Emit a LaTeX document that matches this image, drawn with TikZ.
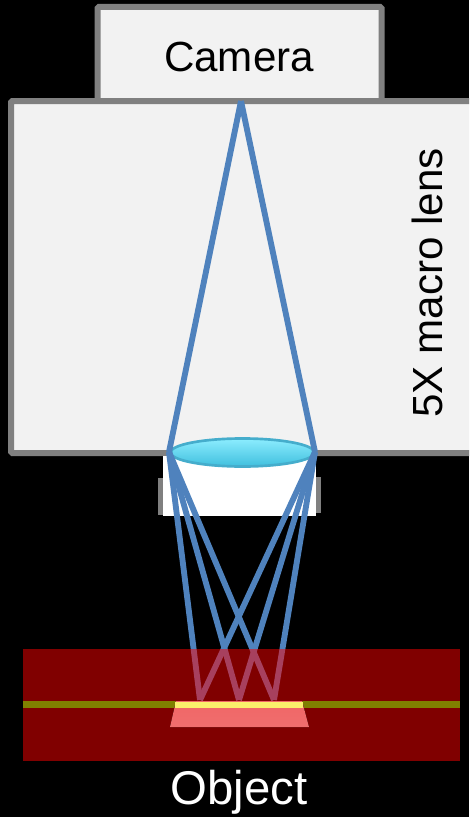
\documentclass[tikz,border=0pt]{standalone}
\usepackage{fontspec}
\setmainfont{Liberation Sans}
\usetikzlibrary{calc,positioning,shapes.geometric}
\definecolor{casegray}{rgb}{0.50,0.50,0.50}
\definecolor{panelwhite}{rgb}{0.95,0.95,0.95}
\definecolor{rayblue}{rgb}{0.31,0.51,0.74}
\definecolor{lenstop}{rgb}{0.55,0.93,1.00}
\definecolor{lensbottom}{rgb}{0.25,0.75,0.87}
\definecolor{lensedge}{rgb}{0.27,0.68,0.80}
\definecolor{sampleolive}{rgb}{0.50,0.50,0.00}
\definecolor{spotpink}{rgb}{0.94,0.40,0.40}
\definecolor{spotyellow}{rgb}{0.98,0.94,0.42}
\tikzset{
  caja/.style={
    rounded corners=1pt,
    draw=casegray,
    fill=panelwhite,
    line width=4.5pt,
    inner sep=0pt
  },
  tope/.style={
    fill=casegray,
    inner sep=0pt,
    minimum width=3.8pt
  },
  rayo/.style={
    rayblue,
    line width=4.4pt,
    line cap=butt
  },
  rotulo/.style={
    inner sep=0pt
  }
}
\begin{document}
\begin{tikzpicture}[x=.75pt,y=-.75pt]
\clip (0,0) rectangle (469,817);
\fill[black] (0,0) rectangle (469,817);
\node[caja,minimum width=213pt,minimum height=70.5pt] (camera) at (239.5,54) {};
\node[caja,minimum width=351.75pt,minimum height=264pt] (macro) at (245.5,277) {};
\node[rotulo,font=\fontsize{31.6pt}{32pt}\selectfont] (camlabel) at (239,56.5) {Camera};
\node[rotulo,font=\fontsize{31.6pt}{32pt}\selectfont,rotate=90] (macrolabel) at (427,283) {5X macro lens};
\node[tope,minimum height=27.5pt] (topeizq) at (160.5,496.5) {};
\node[tope,minimum height=27pt] (topeder) at (318,495) {};
\node[fill=white,inner sep=0pt,minimum width=114.75pt,minimum height=45pt] (hueco) at (239.5,486) {};
\node[ellipse,draw=lensedge,line width=2pt,top color=lenstop,bottom color=lensbottom,
  minimum width=108pt,minimum height=21pt,inner sep=0pt] (lente) at (242.5,452.5) {};
\coordinate (apex) at (241,101);
\coordinate (bordeizq) at (169,452);
\coordinate (bordeder) at (315,452);
\coordinate (p1) at (200,700);
\coordinate (p2) at (239,700);
\coordinate (p3) at (274,700);
\draw[rayo] (bordeizq) -- (apex);
\draw[rayo] (bordeder) -- (apex);
\foreach \p in {p1,p2,p3}{
  \draw[rayo] (bordeizq) -- (\p);
  \draw[rayo] (bordeder) -- (\p);
}
\fill[red,opacity=.5] (23,649) rectangle (460,761);
\fill[sampleolive] (23,701) rectangle (460,708);
\fill[top color=spotpink,bottom color=spotpink!95!white] (176,701) -- (302,701) -- (309,727) -- (170,727) -- cycle;
\fill[spotyellow] (175,702) rectangle (303,708);
\node[rotulo,white,font=\fontsize{35.5pt}{36pt}\selectfont] (objlabel) at (239,792) {Object};
\end{tikzpicture}
\end{document}
